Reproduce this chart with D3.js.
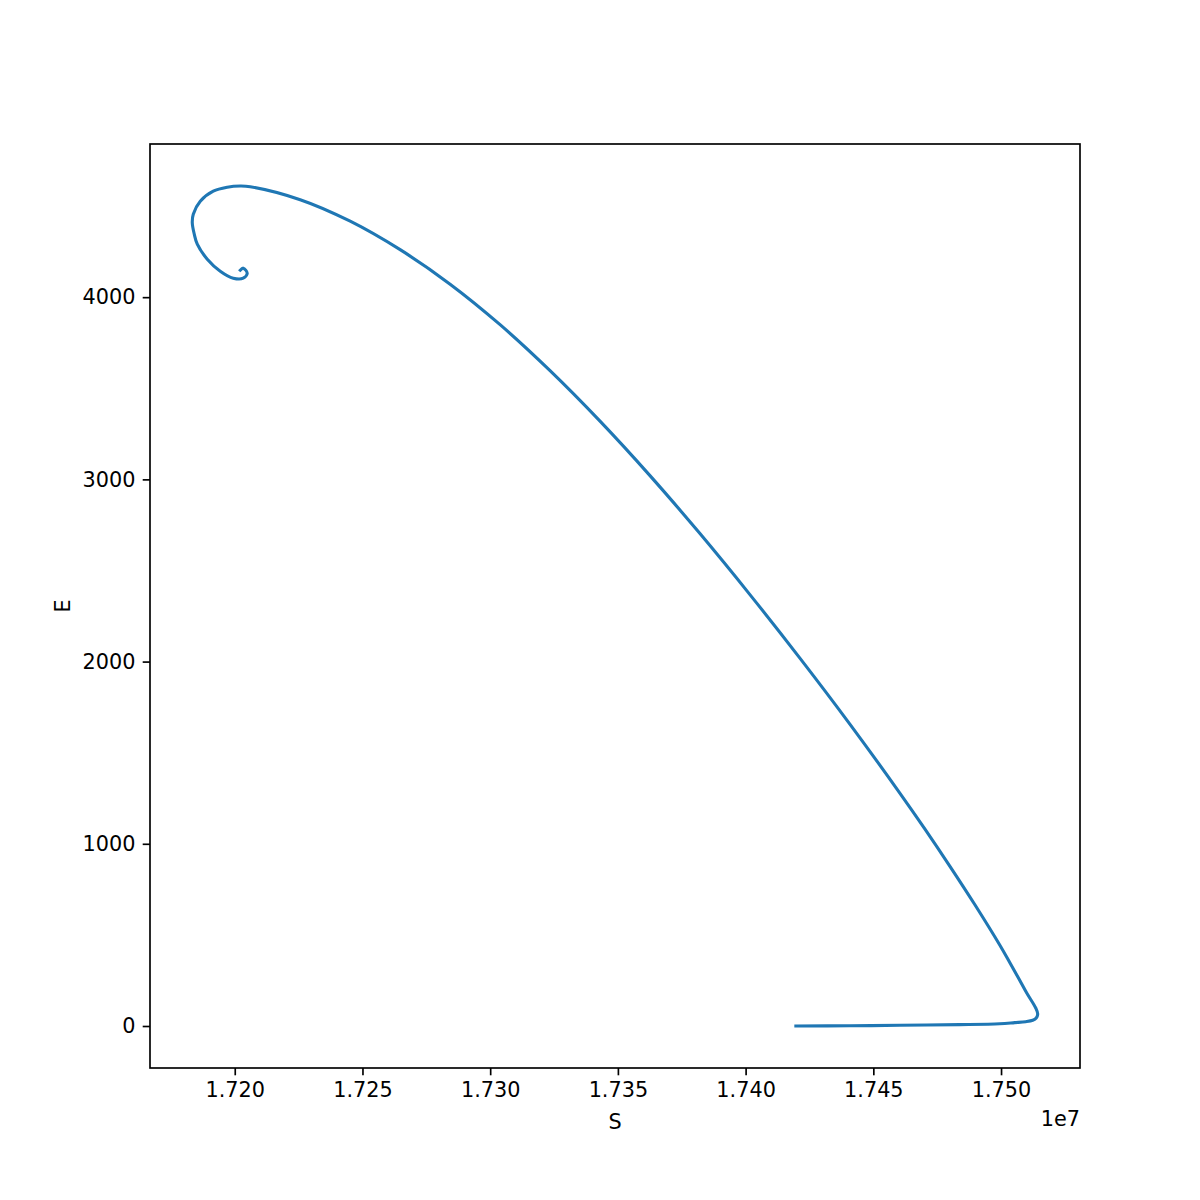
<!DOCTYPE html>
<html>
<head>
<meta charset="utf-8">
<script src="https://cdn.jsdelivr.net/npm/d3@7"></script>
<style>
  body { margin: 0; background: #fff; }
  text { font-family: "DejaVu Sans", sans-serif; }
</style>
</head>
<body>
<div id="chart"></div>
<script>
// trajectory S (susceptible) vs E (exposed), in time order
const S = [17419681, 17440808, 17460370, 17483845, 17499494, 17505363, 17509666,
  17512405, 17513774, 17514361, 17513578, 17510058, 17506928, 17503407,
  17499494, 17489710, 17479932, 17470151, 17460370, 17440808, 17421246, 17401684,
  17382122, 17362560, 17342998, 17323436, 17303874, 17284312, 17264750, 17245188,
  17225626, 17206064, 17202152, 17197066, 17191588, 17186502, 17183764, 17183372,
  17184155, 17185328, 17189241, 17194327, 17199413, 17203326, 17204890, 17203326,
  17202152];
const E = [0, 1.1, 3.8, 7.7, 12.6, 18.7, 23.6,
  31.3, 43.9, 65.8, 98.8, 181.1, 260.6, 348.4,
  444.4, 666.7, 877.9, 1082, 1278.5, 1657.1, 2019.2, 2367.6,
  2702.3, 3020.6, 3319.6, 3596.7, 3849.1, 4071.4, 4260.6, 4417.0,
  4535.1, 4606.3, 4610.1, 4603.5, 4581.6, 4526.8, 4455.4, 4408.6,
  4345.7, 4290.8, 4208.5, 4142.6, 4104.2, 4104.2, 4131.6, 4159.1,
  4148.1];
const xTicks = [1.720, 1.725, 1.730, 1.735, 1.740, 1.745, 1.750]; // x 1e7
const yTicks = [0, 1000, 2000, 3000, 4000];

const W = 1200, H = 1200;
const margin = { top: 144, right: 120, bottom: 132, left: 150 };
const width = W - margin.left - margin.right;
const height = H - margin.top - margin.bottom;

const data = S.map((s, i) => ({ s: s, e: E[i] }));

// matplotlib-like 5% padding
function padded(ext) {
  const p = (ext[1] - ext[0]) * 0.05;
  return [ext[0] - p, ext[1] + p];
}

const x = d3.scaleLinear().domain(padded(d3.extent(S))).range([0, width]);
const y = d3.scaleLinear().domain(padded(d3.extent(E))).range([height, 0]);

const svg = d3.select("#chart").append("svg")
    .attr("width", W)
    .attr("height", H)
  .append("g")
    .attr("transform", `translate(${margin.left},${margin.top})`);

// 150 dpi: 1pt = 2.083px
const fontSize = 20.8;
const tickLen = 7.3;
const spineW = 1.67;

const xAxis = svg.append("g")
  .attr("transform", `translate(0,${height})`)
  .call(d3.axisBottom(x)
    .tickValues(xTicks.map(t => t * 1e7))
    .tickFormat(d => (d / 1e7).toFixed(3))
    .tickSizeInner(tickLen).tickSizeOuter(0).tickPadding(7.3));

const yAxis = svg.append("g")
  .call(d3.axisLeft(y)
    .tickValues(yTicks)
    .tickFormat(d3.format("d"))
    .tickSizeInner(tickLen).tickSizeOuter(0).tickPadding(7.3));

[xAxis, yAxis].forEach(g => {
  g.attr("font-size", fontSize).attr("font-family", "DejaVu Sans");
  g.select(".domain").remove();
  g.selectAll(".tick line").attr("stroke", "#000").attr("stroke-width", spineW);
  g.selectAll(".tick text").attr("fill", "#000");
});

const line = d3.line()
  .x(d => x(d.s))
  .y(d => y(d.e))
  .curve(d3.curveCatmullRom.alpha(0.5));

svg.append("path")
  .datum(data)
  .attr("fill", "none")
  .attr("stroke", "#1f77b4")
  .attr("stroke-width", 3.1)
  .attr("stroke-linecap", "square")
  .attr("stroke-linejoin", "round")
  .attr("d", line);

// axes frame
svg.append("rect")
  .attr("width", width)
  .attr("height", height)
  .attr("fill", "none")
  .attr("stroke", "#000")
  .attr("stroke-width", spineW);

svg.append("text")
  .attr("x", width / 2)
  .attr("y", height + 60.5)
  .attr("text-anchor", "middle")
  .attr("font-size", fontSize)
  .text("S");

svg.append("text")
  .attr("transform", `translate(${-80.5},${height / 2}) rotate(-90)`)
  .attr("text-anchor", "middle")
  .attr("font-size", fontSize)
  .text("E");

// offset text
svg.append("text")
  .attr("x", width)
  .attr("y", height + 57.5)
  .attr("text-anchor", "end")
  .attr("font-size", fontSize)
  .text("1e7");
</script>
</body>
</html>
